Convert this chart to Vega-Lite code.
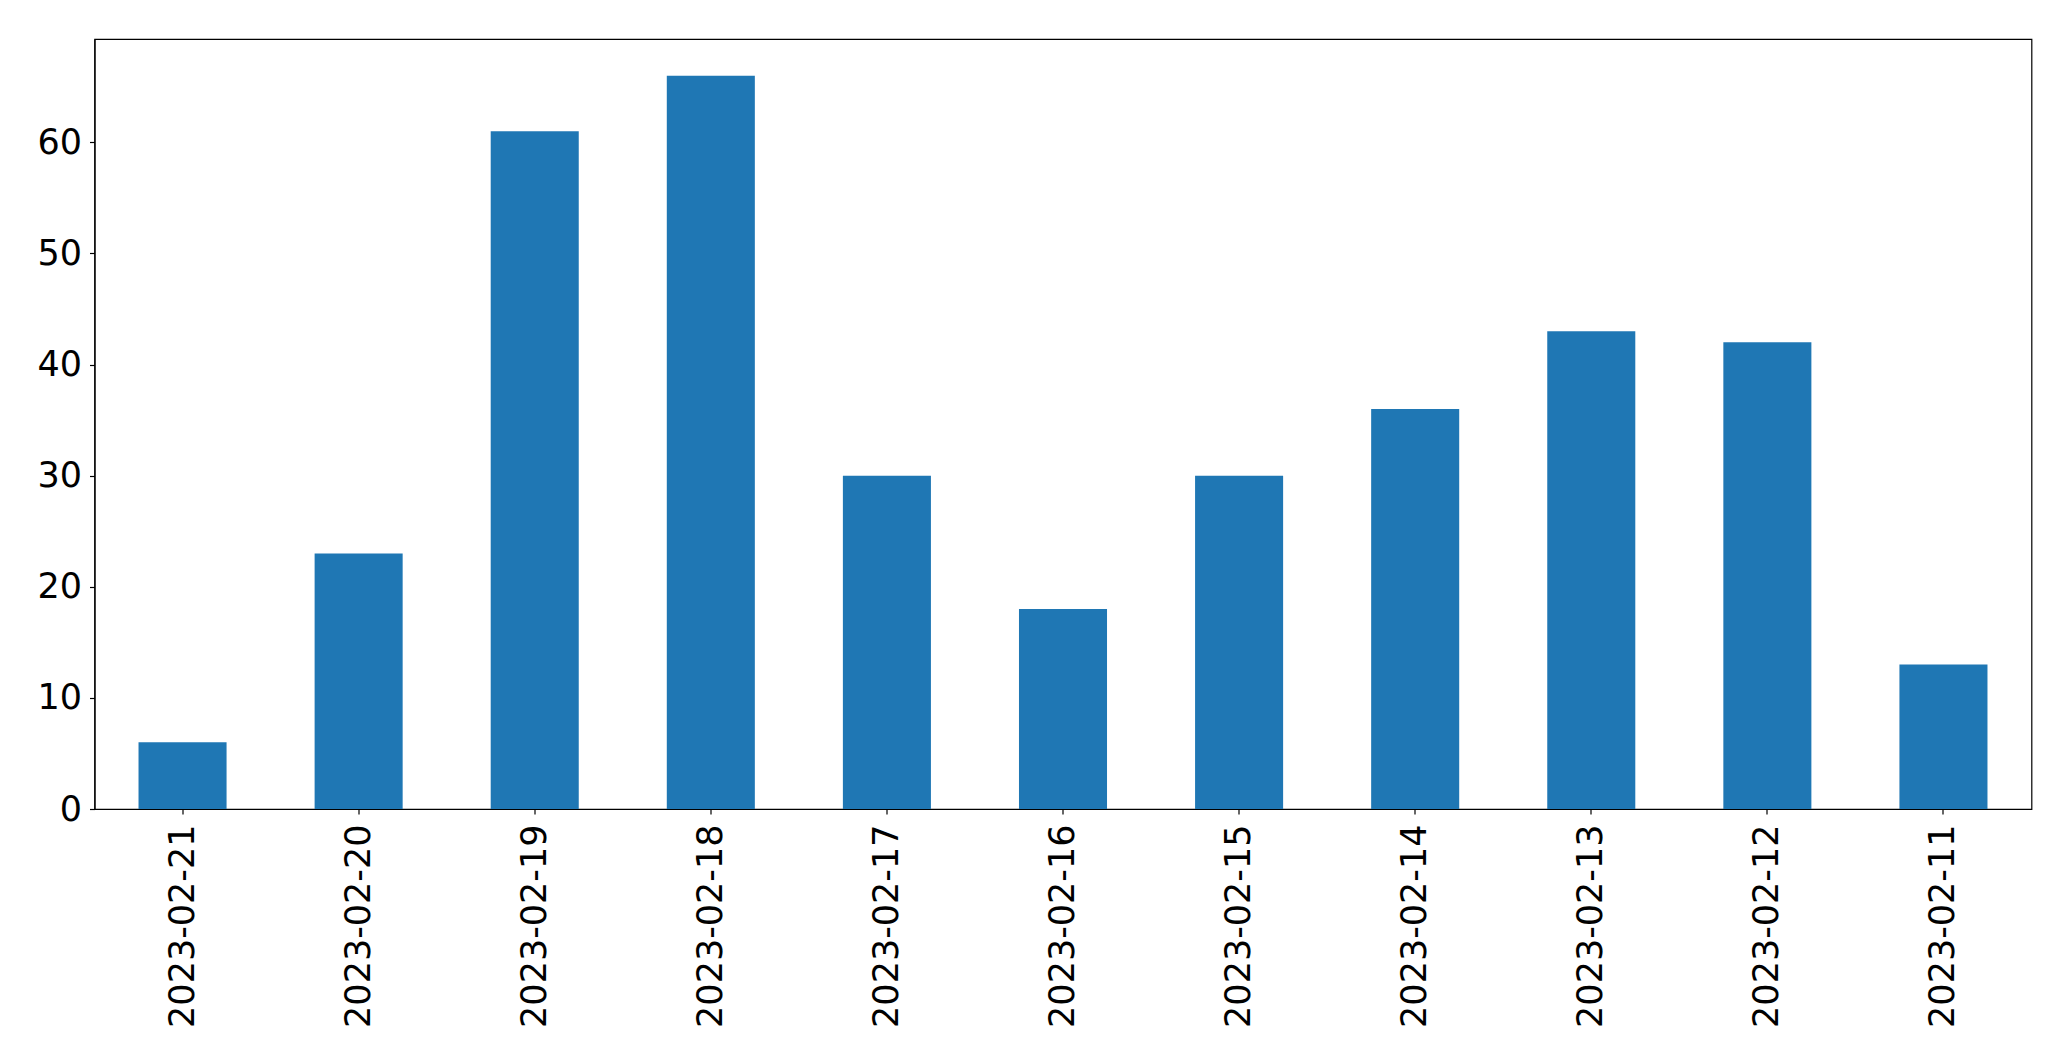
{
  "$schema": "https://vega.github.io/schema/vega-lite/v6.json",
  "width": 1937,
  "height": 770,
  "autosize": {"type": "none"},
  "padding": {"left": 94.5, "top": 39, "right": 39.5, "bottom": 252},
  "background": "white",
  "config": {
    "view": {"stroke": "#000", "strokeWidth": 1.2},
    "font": "DejaVu Sans",
    "axis": {
      "grid": false,
      "domainColor": "#000",
      "domainWidth": 1.2,
      "tickColor": "#000",
      "tickSize": 5,
      "tickWidth": 1.2,
      "labelFont": "DejaVu Sans",
      "labelFontSize": 35,
      "labelColor": "#000",
      "labelLimit": 0,
      "title": null
    }
  },
  "data": {
    "values": [
      {"date": "2023-02-21", "count": 6},
      {"date": "2023-02-20", "count": 23},
      {"date": "2023-02-19", "count": 61},
      {"date": "2023-02-18", "count": 66},
      {"date": "2023-02-17", "count": 30},
      {"date": "2023-02-16", "count": 18},
      {"date": "2023-02-15", "count": 30},
      {"date": "2023-02-14", "count": 36},
      {"date": "2023-02-13", "count": 43},
      {"date": "2023-02-12", "count": 42},
      {"date": "2023-02-11", "count": 13}
    ]
  },
  "mark": {"type": "bar", "color": "#1f77b4"},
  "encoding": {
    "x": {
      "field": "date",
      "type": "nominal",
      "sort": null,
      "scale": {"paddingInner": 0.5, "paddingOuter": 0.25},
      "axis": {"labelAngle": 270, "labelPadding": 10}
    },
    "y": {
      "field": "count",
      "type": "quantitative",
      "scale": {"domain": [0, 69.3], "nice": false, "zero": true},
      "axis": {"values": [0, 10, 20, 30, 40, 50, 60], "labelPadding": 8}
    }
  }
}
